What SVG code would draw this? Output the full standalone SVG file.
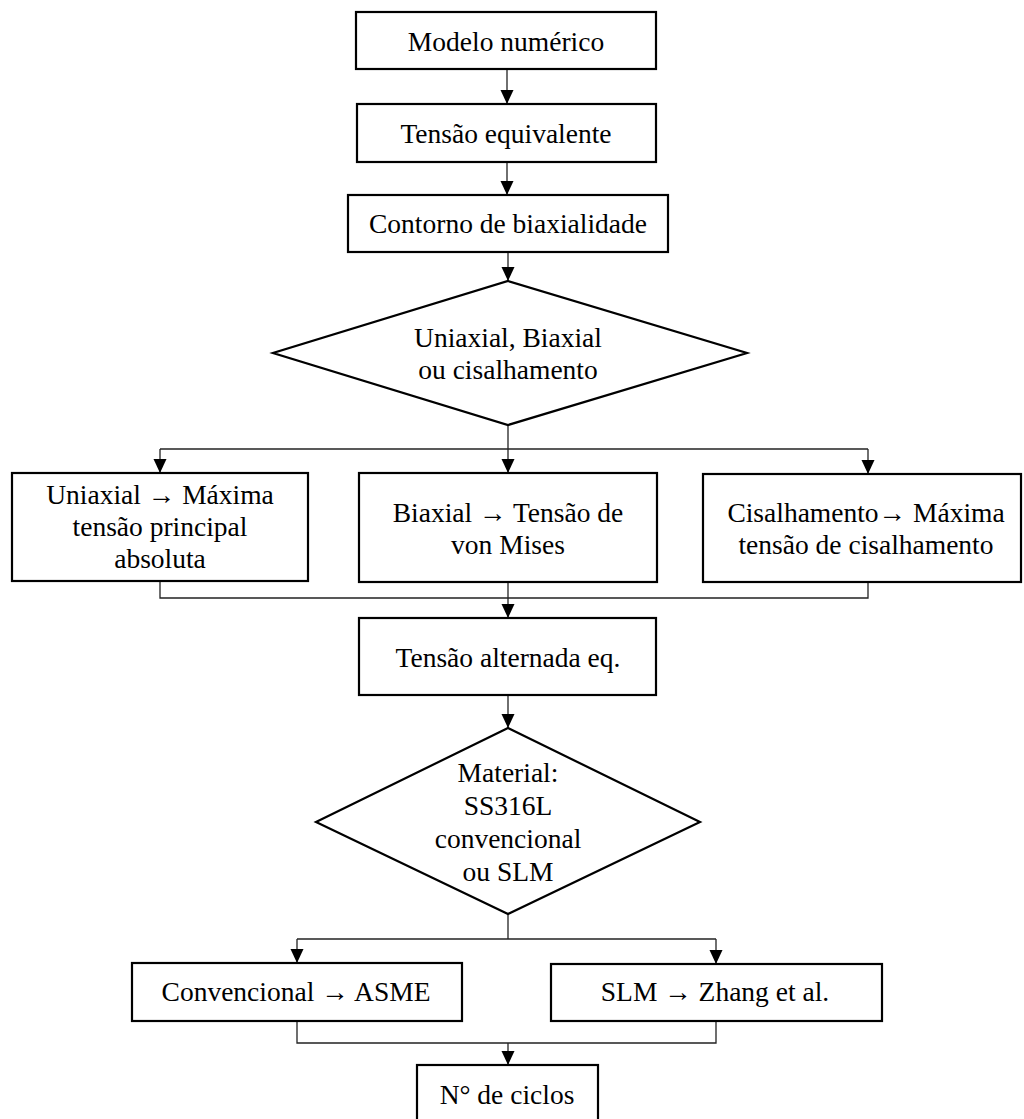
<svg xmlns="http://www.w3.org/2000/svg" width="1024" height="1119" viewBox="0 0 1024 1119">
<style>
.box{fill:#fff;stroke:#000;stroke-width:2.2}
.t{font-family:"Liberation Serif","Times New Roman",serif;font-size:27.5px;fill:#000;text-anchor:middle}
.c{fill:none;stroke:#222;stroke-width:1.3}
.a{marker-end:url(#ah)}
</style>
<defs>
<marker id="ah" markerUnits="userSpaceOnUse" markerWidth="15" markerHeight="14" viewBox="0 0 15 14" refX="14" refY="6.5" orient="auto">
<path d="M0,0 L14,6.5 L0,13 Z" fill="#000"/>
</marker>
</defs>
<g id="connectors">
<path class="c a" d="M507,69 V104"/>
<path class="c a" d="M507,162 V195"/>
<path class="c a" d="M508,252 V281"/>
<path class="c a" d="M508,425 V473"/>
<path class="c" d="M160,449 H868"/>
<path class="c a" d="M160,449 V473"/>
<path class="c a" d="M868,449 V474"/>
<path class="c" d="M160,581 V598 H868 V582"/>
<path class="c a" d="M508,582 V618"/>
<path class="c a" d="M508,695 V728"/>
<path class="c" d="M508,914 V939"/>
<path class="c" d="M297,939 H716"/>
<path class="c a" d="M297,939 V963"/>
<path class="c a" d="M716,939 V964"/>
<path class="c" d="M297,1021 V1043 H716 V1021"/>
<path class="c a" d="M508,1043 V1065"/>
</g>
<g id="n1"><rect class="box" x="356" y="12" width="300" height="57"/><text class="t" x="506" y="51">Modelo numérico</text></g>
<g id="n2"><rect class="box" x="357" y="104" width="299" height="58"/><text class="t" x="506" y="143">Tensão equivalente</text></g>
<g id="n3"><rect class="box" x="348" y="195" width="320" height="57"/><text class="t" x="508" y="233">Contorno de biaxialidade</text></g>
<g id="d1"><polygon class="box" points="508,281 747,353 508,425 273,353"/><text class="t" x="508" y="347">Uniaxial, Biaxial</text><text class="t" x="508" y="379">ou cisalhamento</text></g>
<g id="n4"><rect class="box" x="12" y="473" width="296" height="108"/><text class="t" x="160" y="504">Uniaxial → Máxima</text><text class="t" x="160" y="536">tensão principal</text><text class="t" x="160" y="568">absoluta</text></g>
<g id="n5"><rect class="box" x="359" y="473" width="298" height="109"/><text class="t" x="508" y="522">Biaxial → Tensão de</text><text class="t" x="508" y="554">von Mises</text></g>
<g id="n6"><rect class="box" x="703" y="474" width="318" height="108"/><text class="t" x="866" y="522">Cisalhamento→ Máxima</text><text class="t" x="866" y="554">tensão de cisalhamento</text></g>
<g id="n7"><rect class="box" x="359" y="618" width="297" height="77"/><text class="t" x="508" y="667">Tensão alternada eq.</text></g>
<g id="d2"><polygon class="box" points="508,728 700,822 508,914 316,822"/><text class="t" x="508" y="782">Material:</text><text class="t" x="508" y="815">SS316L</text><text class="t" x="508" y="848">convencional</text><text class="t" x="508" y="881">ou SLM</text></g>
<g id="n8"><rect class="box" x="132" y="963" width="330" height="58"/><text class="t" x="296" y="1001">Convencional → ASME</text></g>
<g id="n9"><rect class="box" x="551" y="964" width="331" height="57"/><text class="t" x="715" y="1001">SLM → Zhang et al.</text></g>
<g id="n10"><rect class="box" x="417" y="1065" width="181" height="70"/><text class="t" x="507" y="1104">N° de ciclos</text></g>
</svg>
